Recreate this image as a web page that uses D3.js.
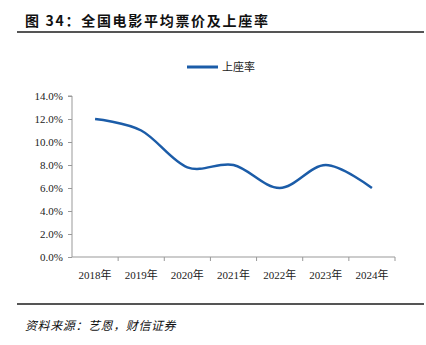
<!DOCTYPE html>
<html><head><meta charset="utf-8">
<script src="https://cdn.jsdelivr.net/npm/d3@7"></script>
<style>body{margin:0;background:#fff;}svg{display:block;}</style>
</head><body>
<svg id="c" width="426" height="345"></svg>
<script>
const categories = ["2018年","2019年","2020年","2021年","2022年","2023年","2024年"];
const occupancy = [12.0, 11.0, 7.8, 8.0, 6.0, 8.0, 6.0];
const yTicks = [0, 2, 4, 6, 8, 10, 12, 14];
const seriesName = "上座率";
const titleText = "图 34：全国电影平均票价及上座率";
const sourceText = "资料来源：艺恩，财信证券";

const svg = d3.select("#c");
const m = {left: 72, right: 395, top: 96, bottom: 257};
const blue = "#1b5ca8";
const serif = "'Liberation Serif','Times New Roman','Noto Sans CJK SC',serif";
const cjk = "'Noto Sans CJK SC',sans-serif";

svg.append("text").attr("x", 25).attr("y", 26)
  .attr("font-family", cjk).attr("font-weight", "bold").attr("font-size", 14)
  .attr("letter-spacing", 1.7).attr("fill", "#111").text(titleText);
svg.append("line").attr("x1", 17).attr("x2", 424).attr("y1", 32).attr("y2", 32)
  .attr("stroke", "#555").attr("stroke-width", 2);

svg.append("line").attr("x1", 17).attr("x2", 424).attr("y1", 304).attr("y2", 304)
  .attr("stroke", "#555").attr("stroke-width", 2);
svg.append("text").attr("x", 25).attr("y", 330)
  .attr("font-family", cjk).attr("font-style", "italic").attr("font-size", 12)
  .attr("letter-spacing", 0.6).attr("fill", "#111").text(sourceText);

const x = d3.scaleBand().domain(categories).range([m.left, m.right]);
const y = d3.scaleLinear().domain([0, 14]).range([m.bottom, m.top]);

const ya = svg.append("g").attr("transform", `translate(${m.left},0)`)
  .call(d3.axisLeft(y).tickValues(yTicks).tickSize(4).tickPadding(5).tickFormat(d => d.toFixed(1) + "%"));
ya.selectAll("text").attr("font-family", serif).attr("font-size", 11).attr("fill", "#222");
ya.selectAll("line").attr("stroke", "#999");
ya.select(".domain").attr("stroke", "#999").attr("d", `M-4,${m.top}H0V${m.bottom}`);

const xa = svg.append("g").attr("transform", `translate(0,${m.bottom})`)
  .call(d3.axisBottom(x).tickSize(0).tickPadding(14));
xa.selectAll("text").attr("font-family", serif).attr("font-size", 11).attr("fill", "#222");
xa.select(".domain").attr("stroke", "#999").attr("d", `M${m.left},0H${m.right}`);
xa.selectAll(".bt").data(categories).enter().append("line")
  .attr("x1", d => x(d) + x.bandwidth()).attr("x2", d => x(d) + x.bandwidth())
  .attr("y1", 0).attr("y2", 4).attr("stroke", "#999");

const line = d3.line()
  .x((d, i) => x(categories[i]) + x.bandwidth() / 2)
  .y(d => y(d))
  .curve(d3.curveCardinal.tension(0));
svg.append("path").datum(occupancy).attr("d", line)
  .attr("fill", "none").attr("stroke", blue).attr("stroke-width", 2.5);

svg.append("line").attr("x1", 187).attr("x2", 218).attr("y1", 67).attr("y2", 67)
  .attr("stroke", blue).attr("stroke-width", 3);
svg.append("text").attr("x", 222).attr("y", 71)
  .attr("font-family", cjk).attr("font-size", 11).attr("fill", "#222").text(seriesName);
</script>
</body></html>
